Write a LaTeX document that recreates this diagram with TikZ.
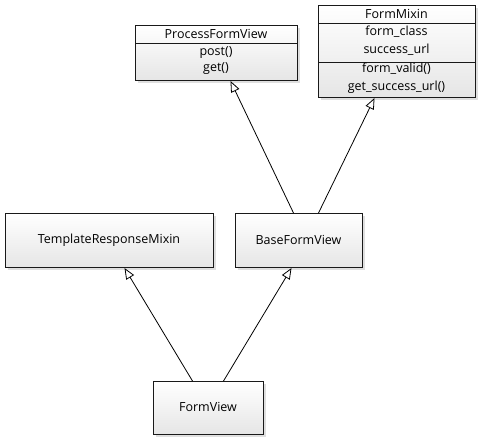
\documentclass[tikz,border=0pt]{standalone}
\usepackage{fontspec}
\setmainfont{Open Sans}
\usetikzlibrary{arrows.meta,shadows}
\begin{document}
\begin{tikzpicture}[x=1pt,y=-1pt,
  cls/.style={draw=black!90, line width=1pt, top color=white, bottom color=black!10,
    drop shadow={shadow xshift=2pt, shadow yshift=-2pt, opacity=0.25},
    inner sep=0pt, anchor=north west},
  lbl/.style={font=\fontsize{12.5}{14}\selectfont, inner sep=0pt},
  sep/.style={draw=black!90, line width=1pt},
  gen/.style={-{Triangle[open,length=11pt,width=9pt,fill=white]}, line width=0.8pt}]
\useasboundingbox (0,0) rectangle (478,440);
% ProcessFormView
\node[cls, minimum width=162pt, minimum height=55pt] (pfv) at (135,25) {};
\draw[sep] (135,43) -- (297,43);
\node[lbl] (pfvn) at (216,34) {ProcessFormView};
\node[lbl] (pfvm1) at (216,53) {post()};
\node[lbl] (pfvm2) at (216,69) {get()};
% FormMixin
\node[cls, minimum width=157pt, minimum height=92pt] (fm) at (318,5) {};
\draw[sep] (318,23) -- (475,23);
\draw[sep] (318,62) -- (475,62);
\node[lbl] (fmn) at (396.5,14) {FormMixin};
\node[lbl] (fma1) at (396.5,32) {form\_class};
\node[lbl] (fma2) at (396.5,50) {success\_url};
\node[lbl] (fmm1) at (396.5,69) {form\_valid()};
\node[lbl] (fmm2) at (396.5,87) {get\_success\_url()};
% TemplateResponseMixin
\node[cls, minimum width=208pt, minimum height=54pt] (trm) at (5,213) {};
\node[lbl] (trmn) at (109,240) {TemplateResponseMixin};
% BaseFormView
\node[cls, minimum width=127pt, minimum height=54pt] (bfv) at (235,213) {};
\node[lbl] (bfvn) at (298.5,240) {BaseFormView};
% FormView
\node[cls, minimum width=110pt, minimum height=53pt] (fv) at (153,381) {};
\node[lbl] (fvn) at (208,407) {FormView};
% generalizations
\draw[gen] ([xshift=-5.5pt]bfv.north) -- ([xshift=14pt]pfv.south);
\draw[gen] ([xshift=19.5pt]bfv.north) -- ([xshift=-22.5pt]fm.south);
\draw[gen] ([xshift=-16pt]fv.north) -- ([xshift=15pt]trm.south);
\draw[gen] ([xshift=15pt]fv.north) -- ([xshift=-7.5pt]bfv.south);
\end{tikzpicture}
\end{document}
